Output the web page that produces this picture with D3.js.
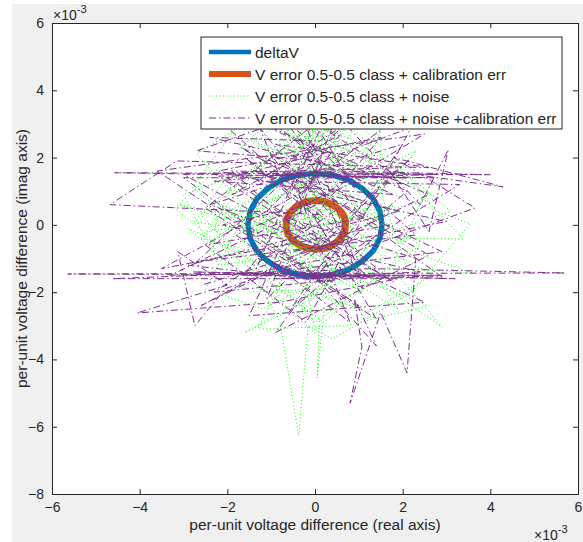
<!DOCTYPE html>
<html>
<head>
<meta charset="utf-8">
<script src="https://cdn.jsdelivr.net/npm/d3@7"></script>
<style>
  body { margin: 0; background: #fff; }
  text { font-family: "Liberation Sans", Arial, sans-serif; fill: #262626; }
</style>
</head>
<body>
<script>
// values are in units of 1e-3 (axis shows x10^-3)

var xTicks = [-6, -4, -2, 0, 2, 4, 6];
var yTicks = [-8, -6, -4, -2, 0, 2, 4, 6];

// deltaV (blue ring)
var deltaX = [1.53, 1.48, 1.33, 1.08, 0.77, 0.40, 0.00, -0.40, -0.77, -1.08, -1.33, -1.48, -1.53, -1.48, -1.33, -1.08, -0.77, -0.40, 0.00, 0.40, 0.77, 1.08, 1.33, 1.48, 1.53];
var deltaY = [0.00, 0.40, 0.77, 1.08, 1.33, 1.48, 1.53, 1.48, 1.33, 1.08, 0.77, 0.40, 0.00, -0.40, -0.77, -1.08, -1.33, -1.48, -1.53, -1.48, -1.33, -1.08, -0.77, -0.40, 0.00];

// V error + calibration err (orange ring)
var calX = [0.70, 0.68, 0.61, 0.50, 0.36, 0.20, 0.02, -0.16, -0.32, -0.46, -0.57, -0.64, -0.66, -0.64, -0.57, -0.46, -0.32, -0.16, 0.02, 0.20, 0.36, 0.50, 0.61, 0.68, 0.70];
var calY = [0.00, 0.19, 0.36, 0.51, 0.62, 0.70, 0.72, 0.70, 0.62, 0.51, 0.36, 0.19, 0.00, -0.19, -0.36, -0.51, -0.62, -0.70, -0.72, -0.70, -0.62, -0.51, -0.36, -0.19, 0.00];

// V error + noise (green dotted)
var noiseX = [1.5, 0.8, -0.5, -1.9, -2.3, -0.9, 0.2, 1.8, 2.5, 1.1, -0.2, -1.6, -2.6, -1.4, -0.8, -0.37, -0.16, 0.4, 2.2, 3.54, 1.6, 0.3, -1.1, -2.1, -3.2, -2.0, 0.1, 0.05, 0.2, 0.6, 2.0, 3.38, 1.9, 0.5, -0.7, -1.8, -2.5, -1.2, 0.9, 2.9, 1.3, 0.0, -1.0, -2.0, -0.4, 1.2, 2.1, 3.6, 2.4, 1.0, -0.6, -2.2, -3.0, -1.5, 0.1, 1.7, 0.6, -0.3, -1.3, 0.7, 2.6, 1.4, -0.1, -1.7, -2.7, -1.0, 0.9, 2.2, 3.1, 1.5, 0.2, -1.5, -2.4, -0.9, 0.4, 1.1, -0.6, -1.9, -2.8, -1.2, 0.3, 1.8, 0.7, -0.5, -1.6, 0.0, 1.2, 2.7, 0.5, -0.2, -2.1, -3.1, -0.3, 0.3, -0.8, 0.6, -1.4, -0.1, 0.2, 1.0,
  -0.2, 0.4, -0.6, 0.1, -2.8, 0.3, -1.2, 0.5, -0.3, 1.6, -2.5, -0.1, 0.8, -1.8, 0.2, 2.3, -0.5, 0.0, -2.9, 0.6, -0.4, 1.3, -1.1, 0.2, 2.8, -0.7, 0.3, -2.2, 0.9, -0.2, 1.9, -1.5, 0.1, -0.9, 2.0, -0.3, 0.7, -2.6, 0.4, 1.5, -0.6, -1.9, 0.0, 2.4, -1.3, 0.5, -0.1, 1.1, -2.3, 0.2];
var noiseY = [0.2, 1.9, 2.6, 1.2, -0.1, -1.8, -2.9, -1.1, 0.9, 2.9, 3.7, 2.2, 0.3, -1.4, -2.9, -6.28, -3.0, -3.4, -2.0, 0.03, 1.0, 2.2, 3.0, 1.8, 0.5, -0.8, -2.8, -4.55, -2.6, -2.2, -0.4, -0.42, 1.6, 3.3, 1.2, -0.2, -1.9, -2.5, -1.2, -3.04, -0.6, 0.9, 2.3, 3.2, 3.0, 2.1, -1.3, -1.43, -0.9, 0.3, -0.9, -1.2, 0.9, 1.6, 2.8, 3.1, 1.4, -0.4, -3.1, -3.0, -2.4, -1.8, -1.2, 0.7, 2.1, 3.5, 2.5, 1.4, 0.4, -0.3, -1.9, -2.0, -0.5, 0.8, 1.7, 3.4, 2.1, 2.7, 1.1, -0.5, -0.8, 0.6, -1.6, -2.5, -3.2, -2.0, -2.6, -1.5, 0.1, 0.3, 0.2, 0.6, -0.1, 3.3, 2.4, 0.9, -0.2, 1.2, -0.6, 0.5,
  2.9, 3.4, 2.0, 3.1, 0.1, -0.5, 0.0, 2.6, -2.6, 0.5, -0.2, 3.6, 1.8, 0.3, -1.0, 2.2, 0.4, -3.2, -0.1, -2.4, 2.7, 2.0, -0.2, 0.0, 0.8, 3.2, -1.8, 0.6, -0.7, 1.4, -2.5, 0.2, 3.0, -2.2, 1.6, 0.1, 2.9, -0.4, -1.4, 2.8, 1.0, -0.1, -2.9, -0.6, 2.4, 0.7, -0.9, -2.0, 0.2, 1.8];

// V error + noise + calibration err (purple dash-dot)
var noiseCalX = [-1.2, 2.1, -4.57, 4.0, 0.5, -2.3, 1.8, -0.9, 2.6, -3.15, -4.68, 0.2, -2.0, 1.0, -0.34, 0.9, -1.48, -0.6, 0.34, 2.4, 3.04, 2.6, 1.7, 4.29, 1.8, 3.65, 0.7, -1.7, 2.9, -5.64, 5.71, 1.3, -4.63, 1.9, -0.8, -4.06, -2.0, -3.13, -2.74, -2.05, -0.3, 1.4, 0.9, 1.07, 0.8, 1.5, 2.1, 2.3, -1.1, 0.6, -1.9, 2.2, -0.2, -2.5, 1.1, -0.7, -2.7, 0.1, -1.5, 2.5, -0.5, 1.5, -2.2, 3.0, -1.3, 0.4, -2.9, 1.9, -0.9, 2.7, -3.0, 0.0, 3.2, -1.4, -0.1, -2.4, 1.3, -1.8, 0.8, -0.4, 2.0, -1.2, 2.6, -2.6, 0.6, -1.6, 1.6, -0.8, 2.4, -2.1, 0.2, -3.3, 1.0, -0.3, 1.8, -2.2,
  1.2, -2.8, 2.9, -1.0, 0.5, -2.4, 2.0, -0.6, 1.7, -3.5, 0.3, 2.8, -1.9, 1.1, -0.4, 2.3, -2.7, 0.7, -1.3, 3.3, -0.2, 1.5, -2.3, 0.9, -1.7, 2.6, -0.9, 1.9, -3.0, 0.0, 2.2, -1.1, 0.6, -2.5, 1.4, -0.5, 2.9, -1.6, 0.4, -2.0, 1.8, -0.7, 2.5, -3.6, 1.0, -0.1, 2.1, -1.4, 0.8, -2.6];
var noiseCalY = [1.5, 1.4, 1.55, 1.49, 1.6, 1.3, 0.9, 2.4, 1.7, 1.9, 0.6, 0.3, 2.9, 3.2, 3.72, 1.1, 3.57, 0.8, 3.48, 0.6, 2.23, -0.2, 1.6, 1.13, 2.0, 0.5, -0.9, -1.5, -1.5, -1.46, -1.43, -1.3, -1.6, -1.6, -2.3, -2.62, -1.79, -0.8, -3.0, -1.9, -1.1, -3.6, -2.2, -3.63, -5.3, -2.6, -4.4, -1.0, 0.4, 2.7, 0.9, 2.9, -2.9, -0.6, 0.2, 3.1, 2.2, 1.9, -2.7, -2.3, -0.5, 2.6, 1.6, 0.1, -1.0, -1.7, -1.2, 0.4, 1.5, 1.4, 1.4, -1.5, -1.6, -1.5, 2.5, 2.6, 1.5, -0.3, -2.9, 1.0, 3.3, 3.0, 0.9, -2.4, -0.2, 2.0, -1.5, -1.6, -1.4, 0.0, 0.7, -1.5, -1.4, 3.3, 1.5, 1.45,
  -1.5, -1.4, -1.55, 2.1, -0.8, 0.6, 2.4, -2.6, 0.0, -1.3, 1.4, 1.5, 1.6, -1.9, 2.8, -0.3, -1.1, 3.0, 1.3, 1.2, -1.6, -1.5, -2.0, 0.8, 2.3, -0.9, -3.2, 1.7, 1.5, -0.6, 2.0, -2.2, 3.6, 0.5, -2.8, 1.3, -0.8, -1.5, 2.2, 1.4, -1.7, 0.2, 2.7, 1.6, -2.4, -1.45, 1.0, 3.1, -0.4, -1.8];

var legendLabels = ["deltaV", "V error 0.5-0.5 class + calibration err", "V error 0.5-0.5 class + noise", "V error 0.5-0.5 class + noise +calibration err"];

var W = 583, H = 542;
var margin = {top: 23, right: 5, bottom: 48, left: 52};
var width = W - margin.left - margin.right,
    height = H - margin.top - margin.bottom;

var svg = d3.select("body").append("svg")
    .attr("width", W)
    .attr("height", H);

// figure background
svg.append("rect").attr("x", 0).attr("y", 0).attr("width", W).attr("height", H).attr("fill", "#ffffff");
svg.append("rect").attr("x", 12).attr("y", 4).attr("width", W - 12).attr("height", H - 4).attr("fill", "#f0f0f0");

var g = svg.append("g")
    .attr("transform", "translate(" + margin.left + "," + margin.top + ")");

var xScale = d3.scaleLinear().domain([-6, 6]).range([0, width]);
var yScale = d3.scaleLinear().domain([-8, 6]).range([height, 0]);

g.append("rect").attr("width", width).attr("height", height).attr("fill", "#ffffff");

g.append("defs").append("clipPath").attr("id", "clip")
  .append("rect").attr("width", width).attr("height", height);

var plot = g.append("g").attr("clip-path", "url(#clip)");

function toPts(xs, ys) {
  return xs.map(function(x, i) { return [x, ys[i]]; });
}

var line = d3.line()
    .x(function(d) { return xScale(d[0]); })
    .y(function(d) { return yScale(d[1]); });

var series = [
  {pts: toPts(deltaX, deltaY), color: "#0072BD", w: 5.5, dash: null},
  {pts: toPts(calX, calY), color: "#D95319", w: 7, dash: null},
  {pts: toPts(noiseX, noiseY), color: "#00FF00", w: 1, dash: "1,2.5"},
  {pts: toPts(noiseCalX, noiseCalY), color: "#7E2F8E", w: 1, dash: "7,3,1.5,3"}
];

series.forEach(function(s) {
  plot.append("path")
    .datum(s.pts)
    .attr("d", line)
    .attr("fill", "none")
    .attr("stroke", s.color)
    .attr("stroke-width", s.w)
    .attr("stroke-dasharray", s.dash)
    .attr("stroke-linejoin", "round");
});

// axes (box with ticks on all sides)
var tickLen = 5;
var axisColor = "#262626";

var xb = g.append("g").attr("transform", "translate(0," + height + ")")
  .call(d3.axisBottom(xScale).tickValues(xTicks).tickSize(-tickLen).tickPadding(8).tickFormat(d3.format("d")));
var xt = g.append("g")
  .call(d3.axisTop(xScale).tickValues(xTicks).tickSize(-tickLen).tickFormat(""));
var yl = g.append("g")
  .call(d3.axisLeft(yScale).tickValues(yTicks).tickSize(-tickLen).tickPadding(8).tickFormat(d3.format("d")));
var yr = g.append("g").attr("transform", "translate(" + width + ",0)")
  .call(d3.axisRight(yScale).tickValues(yTicks).tickSize(-tickLen).tickFormat(""));

[xb, xt, yl, yr].forEach(function(a) {
  a.select(".domain").attr("stroke", axisColor).attr("stroke-width", 1);
  a.selectAll(".tick line").attr("stroke", axisColor);
  a.selectAll(".tick text").attr("fill", axisColor).style("font-size", "14px")
    .style("font-family", "Liberation Sans, Arial, sans-serif");
});

// exponent labels
var expTop = svg.append("text").attr("x", 53).attr("y", 20).style("font-size", "14px");
expTop.append("tspan").text("\u00d710");
expTop.append("tspan").attr("dy", -7).style("font-size", "11px").text("-3");

var expBot = svg.append("text").attr("x", 534).attr("y", 540).style("font-size", "14px");
expBot.append("tspan").text("\u00d710");
expBot.append("tspan").attr("dy", -7).style("font-size", "11px").text("-3");

// axis labels
svg.append("text")
  .attr("x", margin.left + width / 2)
  .attr("y", 530)
  .attr("text-anchor", "middle")
  .style("font-size", "15.5px")
  .text("per-unit voltage difference (real axis)");

svg.append("text")
  .attr("transform", "translate(27," + (margin.top + height / 2) + ") rotate(-90)")
  .attr("text-anchor", "middle")
  .style("font-size", "15.5px")
  .text("per-unit voltage difference (imag axis)");

// legend
var legend = svg.append("g").attr("transform", "translate(201,37)");
legend.append("rect")
  .attr("width", 361).attr("height", 92)
  .attr("fill", "#ffffff").attr("stroke", axisColor).attr("stroke-width", 1);

series.forEach(function(s, i) {
  var yy = 15 + i * 22;
  legend.append("line")
    .attr("x1", 8).attr("x2", 50).attr("y1", yy).attr("y2", yy)
    .attr("stroke", s.color)
    .attr("stroke-width", i === 0 ? 4.5 : (i === 1 ? 6 : 1))
    .attr("stroke-dasharray", s.dash);
  legend.append("text")
    .attr("x", 54).attr("y", yy + 5.5)
    .style("font-size", "15.5px")
    .text(legendLabels[i]);
});
</script>
</body>
</html>
